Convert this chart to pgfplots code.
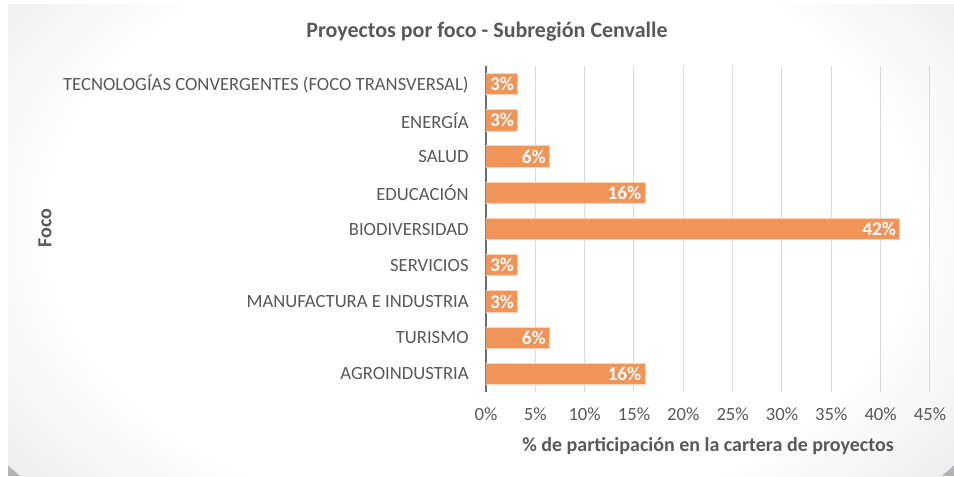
\documentclass[border=0pt]{standalone}
\usepackage{pgfplots}
\pgfplotsset{compat=1.18}
\usepackage{fontspec}
\setmainfont{Carlito}
\definecolor{barfill}{RGB}{241,148,88}
\definecolor{barline}{RGB}{250,212,188}
\definecolor{txt}{RGB}{89,89,89}
\definecolor{gridc}{RGB}{217,217,217}
\definecolor{axline}{RGB}{110,110,110}
\definecolor{bgout}{RGB}{178,180,183}
\pgfdeclareradialshading{bgshade}{\pgfpoint{0bp}{0bp}}{color(0bp)=(white); color(18bp)=(white); color(50bp)=(bgout)}
\begin{document}
\begin{tikzpicture}
% background, in pixel units of the reference (1px = 0.75pt)
\begin{scope}[x=0.75pt,y=0.75pt]
\useasboundingbox (0,0) rectangle (954,476);
\fill[white] (0,0) rectangle (954,476);
\fill[bgout] (8,0) rectangle (954,471);
\begin{scope}
  \clip (8,0) rectangle (954,471);
  \shade[shading=bgshade] (481,250) ellipse (590 and 400);
\end{scope}
\end{scope}
\begin{axis}[
  at={(364.5pt,63pt)}, anchor=south west,
  scale only axis, width=333pt, height=244.5pt,
  xbar, bar width=16pt,
  xmin=0, xmax=45, ymin=-0.5, ymax=8.5,
  xtick={0,5,...,45},
  xticklabel={\pgfmathprintnumber{\tick}\%},
  /pgf/number format/assume math mode=true,
  ytick={0,...,8},
  yticklabels={AGROINDUSTRIA, TURISMO, MANUFACTURA E INDUSTRIA, SERVICIOS, BIODIVERSIDAD, EDUCACIÓN, SALUD, ENERGÍA, TECNOLOGÍAS CONVERGENTES (FOCO TRANSVERSAL)},
  major tick length=0pt,
  axis lines*=left,
  x axis line style={draw=none},
  y axis line style={draw=axline, line width=1.5pt},
  xmajorgrids, grid style={draw=gridc, line width=0.75pt},
  tick label style={font=\fontsize{14}{16}\selectfont, text=txt},
  yticklabel style={xshift=-9.5pt},
  xticklabel style={yshift=-8.5pt},
  point meta=x,
  nodes near coords={\pgfmathprintnumber[fixed,precision=0]{\pgfplotspointmeta}\%},
  nodes near coords style={anchor=east, inner sep=2pt, xshift=-0.5pt, text=white, font=\bfseries\fontsize{14.5}{16}\selectfont},
]
\addplot[fill=barfill, draw=barline, line width=0.75pt] coordinates {
  (16.13,0) (6.45,1) (3.23,2) (3.23,3) (41.94,4) (16.13,5) (6.45,6) (3.23,7) (3.23,8)
};
\end{axis}
\begin{scope}[x=0.75pt,y=0.75pt]
\node[text=txt, font=\bfseries\fontsize{16.5}{18}\selectfont] at (487,444) {Proyectos por foco - Subregión Cenvalle};
\node[text=txt, font=\bfseries\fontsize{15}{17}\selectfont] at (708,30) {\% de participación en la cartera de proyectos};
\node[text=txt, font=\bfseries\fontsize{15}{17}\selectfont, rotate=90] at (45,248) {Foco};
\end{scope}
\end{tikzpicture}
\end{document}
